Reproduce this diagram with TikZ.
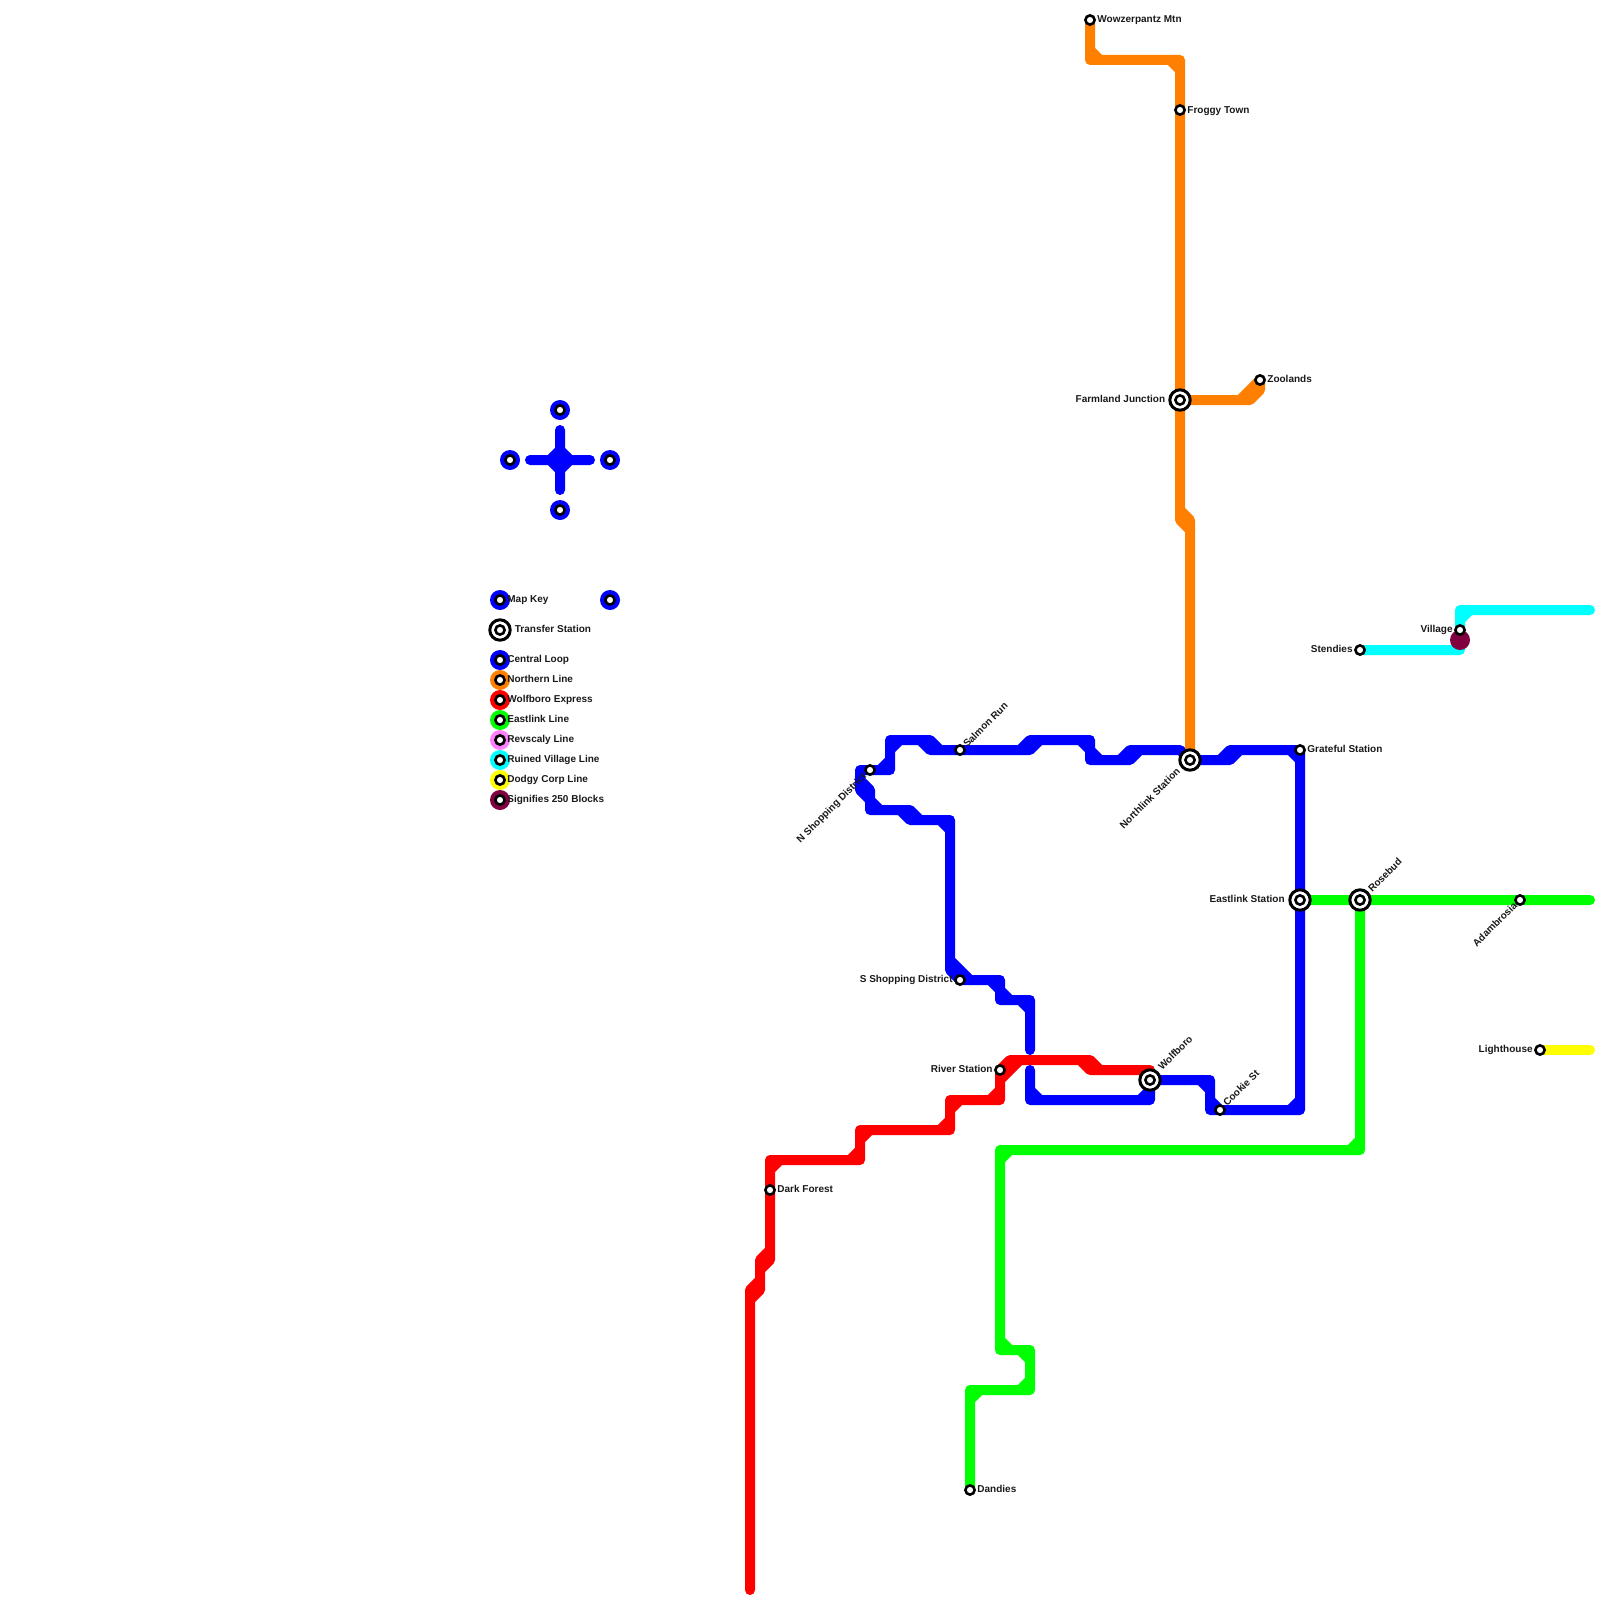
\documentclass[tikz,border=0pt]{standalone}
\usepackage{fontspec}
\setmainfont{Liberation Sans}
\definecolor{cblue}{HTML}{0000FF}
\definecolor{corange}{HTML}{FF8000}
\definecolor{cred}{HTML}{FF0000}
\definecolor{cgreen}{HTML}{00FF00}
\definecolor{cpink}{HTML}{FF80FF}
\definecolor{ccyan}{HTML}{00FFFF}
\definecolor{cyellow}{HTML}{FFFF00}
\definecolor{cmaroon}{HTML}{800040}
\tikzset{
  ln/.style={line width=5pt,line cap=round,line join=round},
  stn/.style={circle,draw=black,fill=white,line width=1.3pt,minimum size=4.6pt,inner sep=0pt},
  xfer/.style={circle,draw=black,fill=white,line width=1.5pt,minimum size=10.2pt,inner sep=0pt},
  keydot/.style={circle,fill=#1,minimum size=10pt,inner sep=0pt},
  lbl/.style={font=\bfseries\fontsize{5pt}{6pt}\selectfont,inner sep=0pt,text=black!90},
  lw/.style={lbl,anchor=base west},
  le/.style={lbl,anchor=base east},
  lwr/.style={lbl,anchor=base west,rotate=45},
  ler/.style={lbl,anchor=base east,rotate=45},
}
\begin{document}
\begin{tikzpicture}[x=0.5pt,y=-0.5pt]
\useasboundingbox (0,0) rectangle (1600,1600);
% station positions
\coordinate (wow) at (1090,20);
\coordinate (frog) at (1180,110);
\coordinate (farm) at (1180,400);
\coordinate (zoo) at (1260,380);
\coordinate (north) at (1190,760);
\coordinate (grate) at (1300,750);
\coordinate (east) at (1300,900);
\coordinate (rose) at (1360,900);
\coordinate (adam) at (1520,900);
\coordinate (sten) at (1360,650);
\coordinate (vill) at (1460,630);
\coordinate (light) at (1540,1050);
\coordinate (nshop) at (870,770);
\coordinate (salm) at (960,750);
\coordinate (sshop) at (960,980);
\coordinate (river) at (1000,1070);
\coordinate (wolf) at (1150,1080);
\coordinate (cook) at (1220,1110);
\coordinate (dark) at (770,1190);
\coordinate (dand) at (970,1490);
% blue: central loop
\draw[ln,cblue]
  (nshop) -- (890,770) -- (890,740) -- (930,740) (940,750) -- (salm) -- (1030,750) (1040,740) -- (1090,740) -- (1090,760) -- (1130,760) (1140,750) -- (1180,750) -- (north)
  (890,750) -- (900,740) (880,770) -- (890,760)
  (920,740) -- (930,740) -- (940,750) -- (930,750) -- cycle
  (1020,750) -- (1030,750) -- (1040,740) -- (1030,740) -- cycle
  (1080,740) -- (1090,750) (1090,750) -- (1100,760)
  (1120,760) -- (1130,760) -- (1140,750) -- (1130,750) -- cycle
  (north) -- (1230,760) (1240,750) -- (grate) -- (east) -- (1300,1110) -- (cook) -- (1210,1110) -- (1210,1080) -- (wolf) -- (1150,1100) -- (1030,1100) -- (1030,1070)
  (1220,760) -- (1230,760) -- (1240,750) -- (1230,750) -- cycle
  (1290,750) -- (1300,760) (1290,1110) -- (1300,1100)
  (1210,1100) -- (1220,1110) (1200,1080) -- (1210,1090) (1140,1100) -- (1150,1090) (1030,1090) -- (1040,1100)
  (1030,1050) -- (1030,1000) -- (1000,1000) -- (1000,980) -- (sshop) (950,960) -- (950,820) -- (910,820) (900,810) -- (870,810) -- (870,790) (860,780) -- (860,770) -- (nshop)
  (1020,1000) -- (1030,1010) (990,980) -- (1000,990) -- (1010,1000)
  (950,960) -- (970,980) -- (960,980) -- (950,970) -- cycle
  (940,820) -- (950,830)
  (900,810) -- (910,810) -- (920,820) -- (910,820) -- cycle
  (870,800) -- (880,810)
  (860,780) -- (870,790) -- (870,800) -- (860,790) -- cycle;
% orange: northern line
\draw[ln,corange]
  (wow) -- (1090,60) -- (1180,60) -- (frog) -- (farm) -- (1180,510) (1190,530) -- (north)
  (1090,50) -- (1100,60) (1170,60) -- (1180,70)
  (1180,510) -- (1190,520) -- (1190,530) -- (1180,520) -- cycle
  (farm) -- (1240,400)
  (1240,400) -- (zoo) -- (1260,390) -- (1250,400) -- cycle;
% red: wolfboro express
\draw[ln,cred]
  (wolf) -- (1150,1070) -- (1090,1070) (1080,1060) -- (1010,1060) (river) -- (1000,1100) -- (950,1100) -- (950,1130) -- (860,1130) -- (860,1160) -- (770,1160) -- (dark) -- (770,1250) (760,1270) -- (760,1280) (750,1300) -- (750,1590)
  (1080,1060) -- (1090,1060) -- (1100,1070) -- (1090,1070) -- cycle
  (1000,1070) -- (1010,1060) -- (1020,1060) -- (1000,1080) -- cycle
  (990,1100) -- (1000,1090)
  (950,1110) -- (960,1100) (940,1130) -- (950,1120) (860,1140) -- (870,1130) (850,1160) -- (860,1150) (770,1170) -- (780,1160)
  (770,1250) -- (770,1260) -- (760,1270) -- (760,1260) -- cycle
  (760,1280) -- (760,1290) -- (750,1300) -- (750,1290) -- cycle;
% green: eastlink line
\draw[ln,cgreen]
  (east) -- (rose) -- (adam) -- (1590,900)
  (rose) -- (1360,1150) -- (1000,1150) -- (1000,1350) -- (1030,1350) -- (1030,1390) -- (970,1390) -- (dand)
  (1350,1150) -- (1360,1140) (1000,1160) -- (1010,1150) (1000,1340) -- (1010,1350) (1020,1350) -- (1030,1360) (1020,1390) -- (1030,1380) (970,1400) -- (980,1390);
% cyan: ruined village line
\draw[ln,ccyan]
  (sten) -- (1460,650) -- (vill) -- (1460,610) -- (1590,610)
  (1460,620) -- (1470,610);
% yellow: dodgy corp line
\draw[ln,cyellow] (light) -- (1590,1050);
% 250 blocks marker
\node[keydot=cmaroon] (blocks) at (1460,640) {};
% cross at left
\draw[ln,cblue]
  (530,460) -- (590,460) (560,430) -- (560,490)
  (550,460) -- (560,450) -- (570,460) -- (560,470) -- cycle;
% key dots
\node[keydot=cblue] (kd1) at (560,410) {};
\node[keydot=cblue] (kd2) at (510,460) {};
\node[keydot=cblue] (kd3) at (610,460) {};
\node[keydot=cblue] (kd4) at (560,510) {};
\node[keydot=cblue] (kd5) at (500,600) {};
\node[keydot=cblue] (kd6) at (610,600) {};
\node[keydot=cblue] (kd7) at (500,660) {};
\node[keydot=corange] (kd8) at (500,680) {};
\node[keydot=cred] (kd9) at (500,700) {};
\node[keydot=cgreen] (kd10) at (500,720) {};
\node[keydot=cpink] (kd11) at (500,740) {};
\node[keydot=ccyan] (kd12) at (500,760) {};
\node[keydot=cyellow] (kd13) at (500,780) {};
\node[keydot=cmaroon] (kd14) at (500,800) {};
% key stations
\foreach \n/\p in {a/{560,410},b/{510,460},c/{610,460},d/{560,510},e/{500,600},f/{610,600},g/{500,660},h/{500,680},i/{500,700},j/{500,720},k/{500,740},l/{500,760},m/{500,780},o/{500,800}}
  \node[stn] (key\n) at (\p) {};
\node[xfer] (keyxo) at (500,630) {};
\node[stn] (keyx) at (500,630) {};
% transfer stations
\foreach \n in {farm,north,east,rose,wolf}{
  \node[xfer] (\n O) at (\n) {};
  \node[stn] (\n S) at (\n) {};
}
\foreach \n in {wow,frog,zoo,grate,adam,sten,vill,light,nshop,salm,sshop,river,cook,dark,dand}
  \node[stn] (\n S) at (\n) {};
% labels
\node[lw] (t1) at (507,602) {Map Key};
\node[lw] (t2) at (514.5,632.5) {Transfer Station};
\node[lw] (t3) at (507,662) {Central Loop};
\node[lw] (t4) at (507,682) {Northern Line};
\node[lw] (t5) at (507,702) {Wolfboro Express};
\node[lw] (t6) at (507,722) {Eastlink Line};
\node[lw] (t7) at (507,742) {Revscaly Line};
\node[lw] (t8) at (507,762) {Ruined Village Line};
\node[lw] (t9) at (507,782) {Dodgy Corp Line};
\node[lw] (t10) at (507,802) {Signifies 250 Blocks};
\node[lw] (t11) at (1097,23) {Wowzerpantz Mtn};
\node[lw] (t12) at (1187,113) {Froggy Town};
\node[le] (t13) at (1165.5,402.5) {Farmland Junction};
\node[lw] (t14) at (1267,382) {Zoolands};
\node[lw] (t15) at (1307,752) {Grateful Station};
\node[le] (t16) at (1285,902) {Eastlink Station};
\node[le] (t17) at (1453,632) {Village};
\node[le] (t18) at (1353,652) {Stendies};
\node[le] (t19) at (1533,1052) {Lighthouse};
\node[le] (t20) at (953,982) {S Shopping District};
\node[le] (t21) at (993,1072) {River Station};
\node[lw] (t22) at (777,1192) {Dark Forest};
\node[lw] (t23) at (977,1492) {Dandies};
\node[lwr] (t24) at (967,748) {Salmon Run};
\node[lwr] (t25) at (1162,1071) {Wolfboro};
\node[lwr] (t26) at (1227,1107) {Cookie St};
\node[lwr] (t27) at (1372,893) {Rosebud};
\node[ler] (t28) at (867,777) {N Shopping District};
\node[ler] (t29) at (1181,772) {Northlink Station};
\node[ler] (t30) at (1518,906) {Adambrosia};
\end{tikzpicture}
\end{document}
